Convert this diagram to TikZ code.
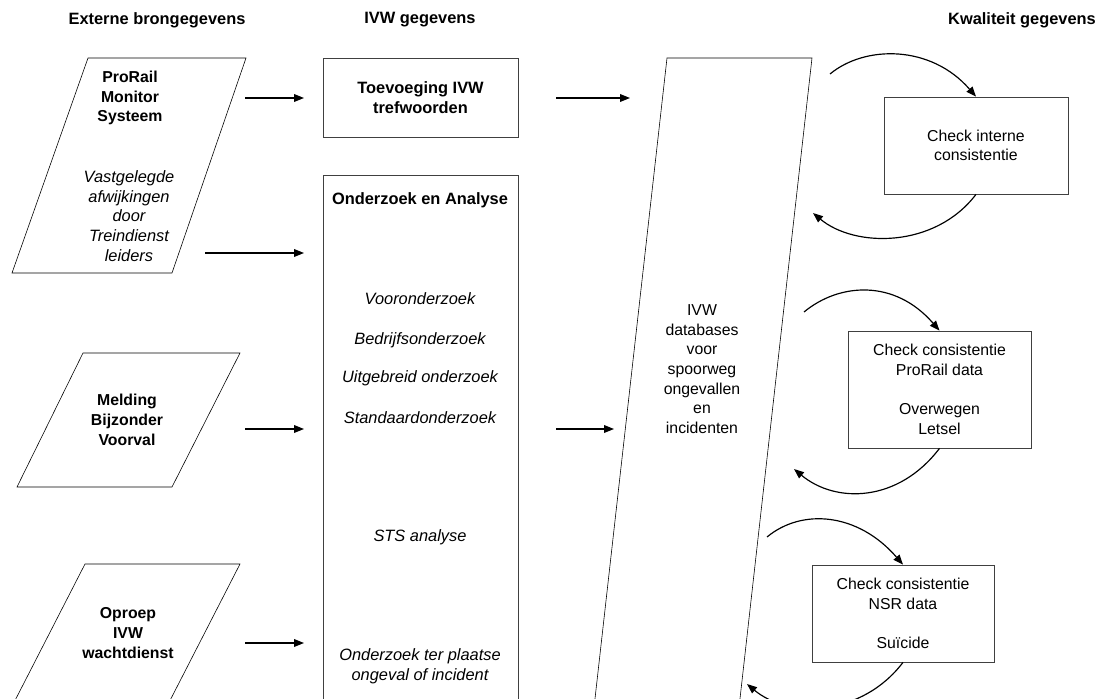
\documentclass[tikz,border=0pt]{standalone}
\usepackage{fontspec}
\setmainfont{Liberation Sans}
\usetikzlibrary{arrows.meta, calc, positioning}

\tikzset{
	txt/.style={font=\fontsize{13.5}{16.8}\selectfont, align=center, inner sep=0pt},
	kop/.style={txt, font=\fontsize{13.5}{16.8}\selectfont\bfseries},
	titel/.style={txt, font=\fontsize{14}{16.8}\selectfont\bfseries},
	schuin/.style={txt, font=\fontsize{14}{16.8}\selectfont\itshape},
	vak/.style={draw=black!75, line width=0.6pt},
	bron/.style={draw, line width=0.5pt},
	pijl/.style={line width=1pt, -{Triangle[length=8.5pt,width=6.6pt]}},
}

\begin{document}
\begin{tikzpicture}[x=0.03cm, y=-0.03cm]
	\clip (0,0) rectangle (1107,699);

	\node[titel] (hExt) at (157,20) {Externe brongegevens};
	\node[titel] (hIvw) at (420,20) {IVW gegevens};
	\node[titel] (hKwa) at (1022,20) {Kwaliteit gegevens};

	\begin{scope}
	\draw[bron] (88,58) -- (246,58) -- (172,273) -- (12,273) -- cycle;
	\node[kop] (pMon) at (130,98) {ProRail\\Monitor\\Systeem};
	\node[schuin] (pAfw) at (129,216) {Vastgelegde\\afwijkingen\\door\\Treindienst\\leiders};
	\draw[bron] (83,353) -- (240,353) -- (172,487) -- (17,487) -- cycle;
	\node[kop] (pMel) at (127,420) {Melding\\Bijzonder\\Voorval};
	\draw[bron] (85,564) -- (240,564) -- (160,720) -- (5,720) -- cycle;
	\node[kop] (pOpr) at (128,633) {Oproep\\IVW\\wachtdienst};
	\end{scope}

	\begin{scope}
	\node[vak, titel, minimum width=5.85cm, minimum height=2.37cm] (tv) at (420.5,97.5) {Toevoeging IVW\\trefwoorden};
	\node[vak, minimum width=5.85cm, minimum height=16.35cm, anchor=north] (oa) at (420.5,175) {};
	\node[titel] (oaT) at (420,200) {Onderzoek en Analyse};
	\node[schuin] (oa1) at (420,299) {Vooronderzoek};
	\node[schuin] (oa2) at (420,340) {Bedrijfsonderzoek};
	\node[schuin] (oa3) at (420,378) {Uitgebreid onderzoek};
	\node[schuin] (oa4) at (420,418) {Standaardonderzoek};
	\node[schuin] (oa5) at (420,537) {STS analyse};
	\node[schuin] (oa6) at (420,666) {Onderzoek ter plaatse\\ongeval of incident};
	\end{scope}

	\draw[bron] (667,58) -- (812,58) -- (737.6,720) -- (592.6,720) -- cycle;
	\node[txt] (db) at (702,369) {IVW\\databases\\voor\\spoorweg\\ongevallen\\en\\incidenten};

	\begin{scope}
	\node[vak, txt, minimum width=5.52cm, minimum height=2.91cm] (chk1) at (976,145.5) {Check interne\\consistentie};
	\node[vak, txt, minimum width=5.49cm, minimum height=3.51cm] (chk2) at (939.5,389.5) {Check consistentie\\ProRail data\\[16.8pt]Overwegen\\Letsel};
	\node[vak, txt, minimum width=5.46cm, minimum height=2.91cm] (chk3) at (903,613.5) {Check consistentie\\NSR data\\[16.8pt]Su\"icide};
	\end{scope}

	\coordinate (a1s) at (245,98);
	\coordinate (a1e) at (304,98);
	\coordinate (a2s) at (205,253);
	\coordinate (a2e) at (304,253);
	\coordinate (a3s) at (245,429);
	\coordinate (a3e) at (304,429);
	\coordinate (a4s) at (245,643);
	\coordinate (a4e) at (304,643);
	\coordinate (a5s) at (556,98);
	\coordinate (a5e) at (630,98);
	\coordinate (a6s) at (556,429);
	\coordinate (a6e) at (614,429);
	\draw[pijl] (a1s) -- (a1e);
	\draw[pijl] (a2s) -- (a2e);
	\draw[pijl] (a3s) -- (a3e);
	\draw[pijl] (a4s) -- (a4e);
	\draw[pijl] (a5s) -- (a5e);
	\draw[pijl] (a6s) -- (a6e);

	\coordinate (c1s) at (830,74);
	\coordinate (c1t) at (813,213);
	\coordinate (c2s) at (804,312);
	\coordinate (c2t) at (794,469);
	\coordinate (c3s) at (767,537);
	\coordinate (c3t) at (747,684);
	\draw[pijl] (c1s) .. controls +(35,-29) and +(-45,-52) .. (chk1.north);
	\draw[pijl] (chk1.south) .. controls +(-41,54) and +(42,35) .. (c1t);
	\draw[pijl] (c2s) .. controls +(35,-29) and +(-45,-52) .. (chk2.north);
	\draw[pijl] (chk2.south) .. controls +(-41,54) and +(42,35) .. (c2t);
	\draw[pijl] (c3s) .. controls +(35,-29) and +(-45,-52) .. (chk3.north);
	\draw[pijl] (chk3.south) .. controls +(-41,54) and +(42,35) .. (c3t);
\end{tikzpicture}
\end{document}
